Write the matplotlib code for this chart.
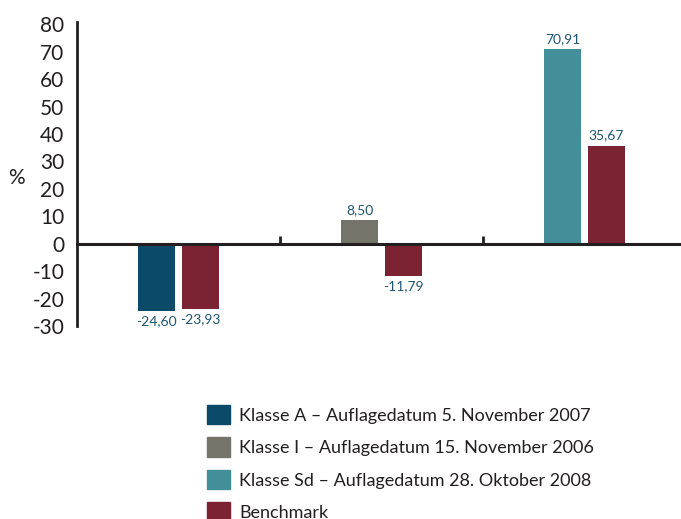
import numpy as np
import matplotlib
matplotlib.use('Agg')
import matplotlib.pyplot as plt
from matplotlib.patches import Patch

plt.rcParams['font.family'] = ['Lato', 'DejaVu Sans']

# data
share_classes = ['Klasse A – Auflagedatum 5. November 2007',
                 'Klasse I – Auflagedatum 15. November 2006',
                 'Klasse Sd – Auflagedatum 28. Oktober 2008']
fund_values = [-24.60, 8.50, 70.91]
benchmark_values = [-23.93, -11.79, 35.67]
benchmark_name = 'Benchmark'
y_ticks = [-30, -20, -10, 0, 10, 20, 30, 40, 50, 60, 70, 80]

fund_colors = ['#0b4a68', '#74746a', '#438f99']
bench_color = '#7b2333'
label_color = '#1d5674'
axis_color = '#231f20'

def fmt(v):
    return ('%.2f' % v).replace('.', ',')

fig = plt.figure(figsize=(6.81, 5.19), dpi=100)
ax = fig.add_axes([77/681, 1-326/519, 1-77/681, (326-22)/519])

centers = np.arange(len(fund_values)) + 0.5
w = 0.182
off = (w + 0.034) / 2

b1 = ax.bar(centers - off, fund_values, w, color=fund_colors, zorder=2)
b2 = ax.bar(centers + off, benchmark_values, w, color=bench_color, zorder=2)

ax.bar_label(b1, labels=[fmt(v) for v in fund_values], padding=3,
             color=label_color, fontsize=10)
ax.bar_label(b2, labels=[fmt(v) for v in benchmark_values], padding=3,
             color=label_color, fontsize=10)

ax.set_xlim(0, 604/203)
ax.set_ylim(-30, 80.8)
ax.set_yticks(y_ticks)
ax.set_yticklabels([str(t) for t in y_ticks], fontsize=15, color=axis_color)
ax.tick_params(axis='y', length=0, pad=9)

ax.spines['top'].set_visible(False)
ax.spines['right'].set_visible(False)
ax.spines['left'].set_color(axis_color)
ax.spines['left'].set_linewidth(2)
ax.spines['bottom'].set_position(('data', 0))
ax.spines['bottom'].set_color(axis_color)
ax.spines['bottom'].set_linewidth(2.2)
ax.spines['bottom'].set_zorder(3)
ax.set_xticks([1, 2])
ax.set_xticklabels([])
ax.tick_params(axis='x', direction='in', length=6, width=2, color=axis_color)

fig.text(16/681, 1-178/519, '%', fontsize=15, color=axis_color,
         ha='center', va='center')

handles = [Patch(color=c) for c in fund_colors] + [Patch(color=bench_color)]
labels = share_classes + [benchmark_name]
fig.legend(handles, labels, loc='upper left',
           bbox_to_anchor=(207/681, 1-405/519), frameon=False,
           fontsize=13, handlelength=1.25, handleheight=1.25,
           handletextpad=0.55, labelspacing=0.74, labelcolor=axis_color,
           borderaxespad=0, borderpad=0)

fig.savefig('out.png', dpi=100)
